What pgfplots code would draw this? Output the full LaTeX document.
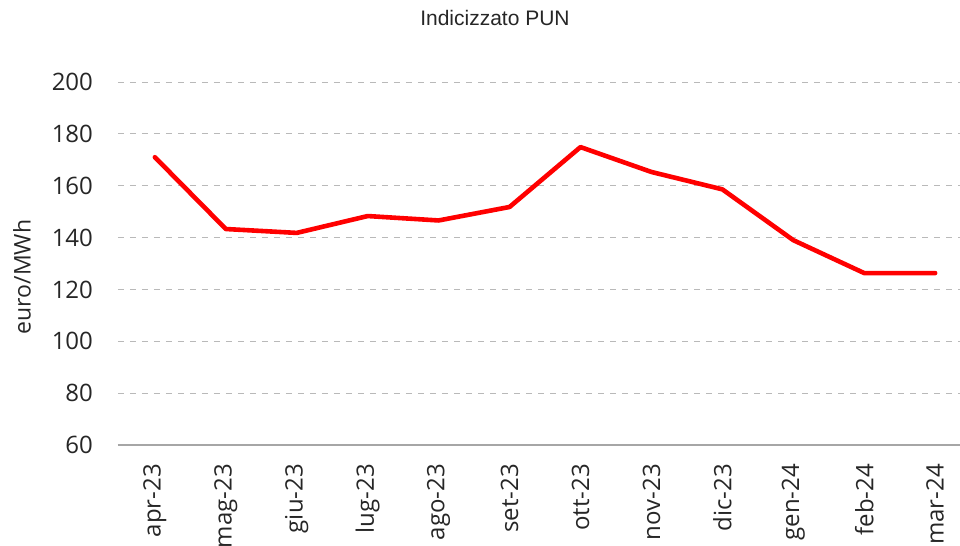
\documentclass[border=0pt]{standalone}
\usepackage{pgfplots}
\pgfplotsset{compat=1.18}
\usepackage{fontspec}
\setmainfont{Open Sans}
\newfontfamily\titlefont{Liberation Sans}
\begin{document}
\begin{tikzpicture}
\begin{axis}[
  scale only axis,
  width=421pt, height=181.5pt,
  xmin=-0.52, xmax=11.35,
  ymin=60, ymax=200,
  ytick={60,80,...,200},
  xtick={0,...,11},
  xticklabels={apr-23,mag-23,giu-23,lug-23,ago-23,set-23,ott-23,nov-23,dic-23,gen-24,feb-24,mar-24},
  axis lines*=left,
  y axis line style={draw=none},
  x axis line style={draw=gray!70, line width=0.8pt, -},
  ymajorgrids,
  grid style={dashed, gray!55, line width=0.5pt},
  major tick length=0pt,
  tick style={draw=none},
  /pgf/number format/assume math mode=true,
  ticklabel style={font=\fontsize{12}{14}\selectfont, text=black!85},
  yticklabel style={anchor=east, xshift=-9pt},
  xticklabel style={rotate=90, anchor=east},
  xticklabel shift=6pt,
  clip=false,
]
\addplot[red, line width=2.3pt, line join=round, line cap=round] coordinates {
(0,171.0) (1,143.3) (2,141.8) (3,148.3) (4,146.6) (5,151.8) (6,174.9) (7,165.3) (8,158.6) (9,139.0) (10,126.3) (11,126.3)
};
\end{axis}
\node[font=\titlefont\fontsize{10.5}{12}\selectfont, text=black!85] at (188.5pt,213.5pt) {Indicizzato PUN};
\node[font=\fontsize{11.5}{13}\selectfont, rotate=90, text=black!85] at (-48pt,84pt) {euro/MWh};
\pgfresetboundingbox
\path[use as bounding box] (-59pt,-50.5pt) rectangle (421pt,222.5pt);
\end{tikzpicture}
\end{document}
